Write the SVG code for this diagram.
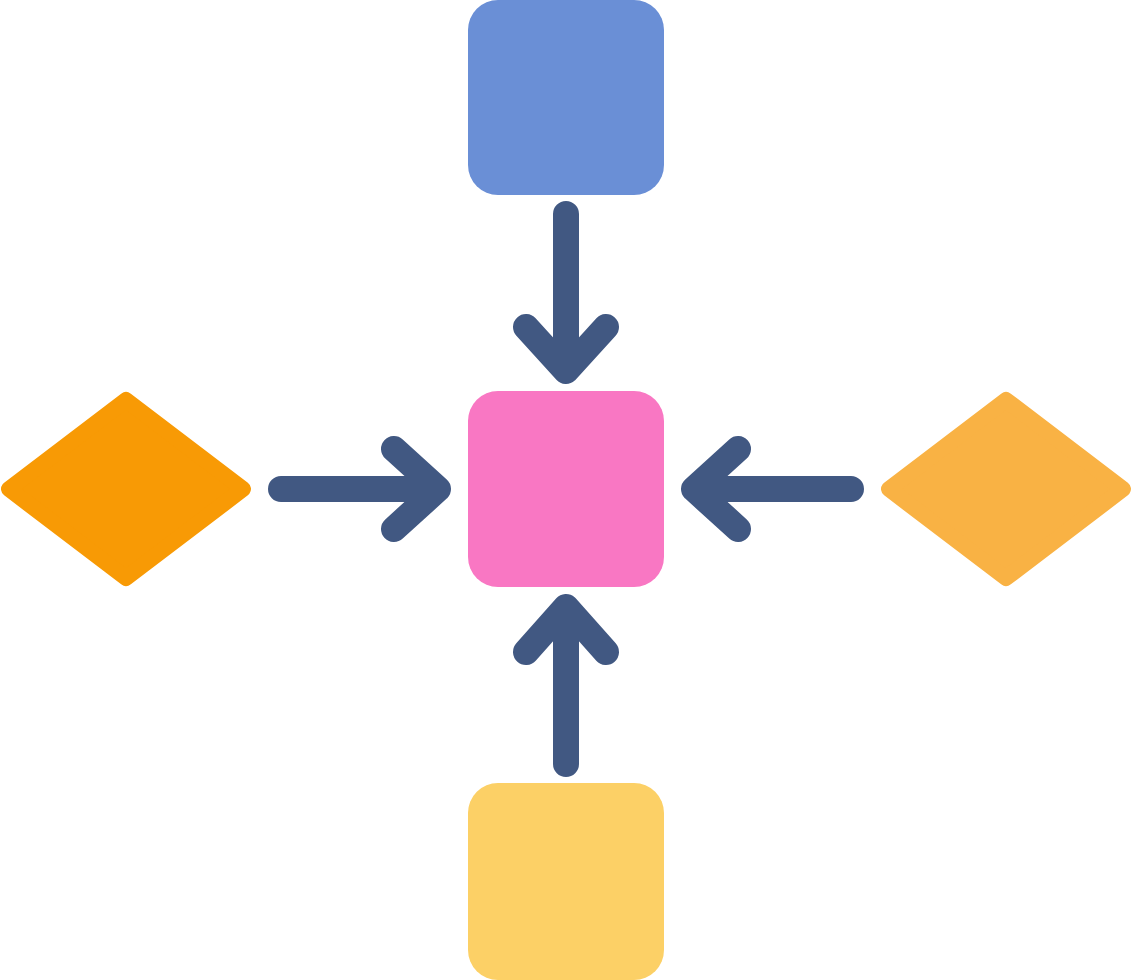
<svg xmlns="http://www.w3.org/2000/svg" width="1133" height="980" viewBox="0 0 1133 980">
<style>
.arrow{fill:none;stroke:#415882;stroke-width:26;stroke-linecap:round;stroke-linejoin:round}
.dia{stroke-width:16;stroke-linejoin:round}
</style>
<rect width="1133" height="980" fill="#ffffff"/>
<g id="node-top"><rect x="468" y="0" width="196" height="195" rx="30" fill="#6A8FD6"/></g>
<g id="node-center"><rect x="468" y="391" width="196" height="196" rx="30" fill="#F977C3"/></g>
<g id="node-bottom"><rect x="468" y="783" width="196" height="197" rx="30" fill="#FCD066"/></g>
<g id="node-left"><polygon class="dia" points="9,489 126,400 243,489 126,578" fill="#F89A05" stroke="#F89A05"/></g>
<g id="node-right"><polygon class="dia" points="889,489 1006,400 1123,489 1006,578" fill="#F9B244" stroke="#F9B244"/></g>
<g id="connectors">
<path class="arrow" d="M566,214 V370 M526,327 L566,371 L606,327"/>
<path class="arrow" d="M566,764 V608 M526,652 L566,607 L606,652"/>
<path class="arrow" d="M281,489 H437 M394,449 L438,489 L394,529"/>
<path class="arrow" d="M851,489 H695 M738,449 L694,489 L738,529"/>
</g>
</svg>
